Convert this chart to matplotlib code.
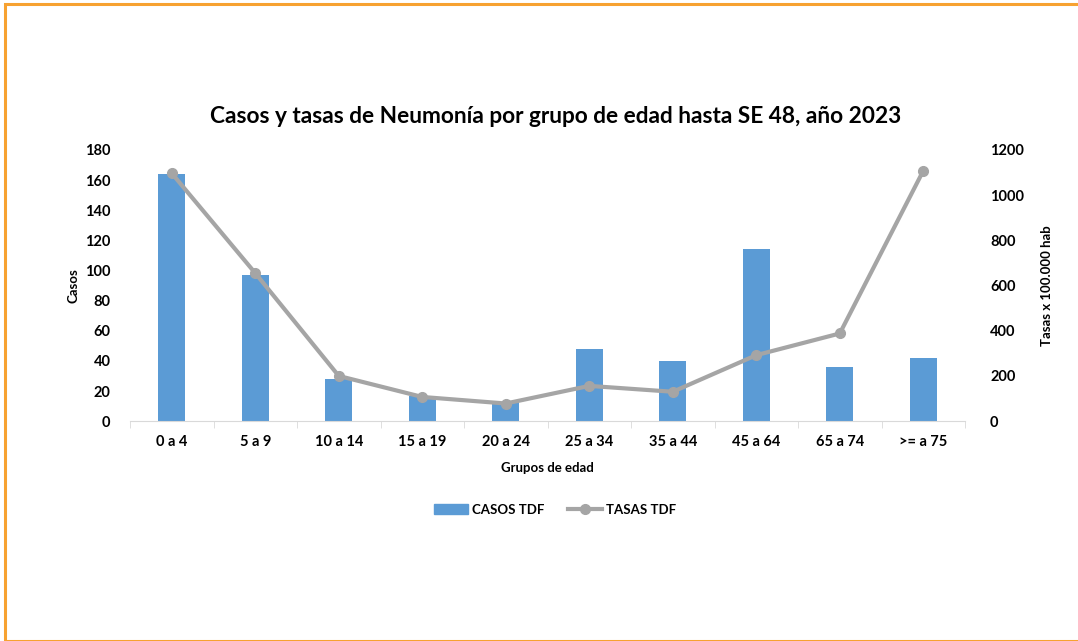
import matplotlib.pyplot as plt
import matplotlib.patches as mpatches
from matplotlib.lines import Line2D
import numpy as np

# datos
grupos = ["0 a 4", "5 a 9", "10 a 14", "15 a 19", "20 a 24",
          "25 a 34", "35 a 44", "45 a 64", "65 a 74", ">= a 75"]
casos = [164, 97, 28, 17, 13, 48, 40, 114, 36, 42]
tasas = [1097, 655, 200, 107, 78, 156, 130, 292, 388, 1108]

azul = "#5B9BD5"
gris = "#A5A5A5"

plt.rcParams['font.family'] = ['Lato', 'DejaVu Sans']

fig = plt.figure(figsize=(10.78, 6.41), dpi=100)
ax = fig.add_axes([0.1206, 0.343, 0.7746, 0.423])
x = np.arange(len(grupos))

# barras de casos
ax.bar(x, casos, width=0.32, color=azul, zorder=2)
ax.set_xlim(-0.5, len(grupos) - 0.5)
ax.set_ylim(0, 180)
ax.set_yticks(range(0, 181, 20))
ax.set_xticks(x)
ax.set_xticklabels(grupos, fontsize=10.5, fontweight="bold")
ax.tick_params(axis="x", length=0, pad=10)
ax.set_xticks(np.arange(-0.5, len(grupos), 1), minor=True)
ax.tick_params(axis="x", which="minor", length=5, color="#D9D9D9")
ax.tick_params(axis="y", length=0, labelsize=10.5, pad=14)
for lab in ax.get_yticklabels():
    lab.set_fontweight("bold")
for s in ["top", "left", "right"]:
    ax.spines[s].set_visible(False)
ax.spines["bottom"].set_color("#D9D9D9")
ax.set_ylabel("Casos", fontsize=9.5, fontweight="bold", labelpad=4)
ax.set_xlabel("Grupos de edad", fontsize=9.5, fontweight="bold", labelpad=9)

# linea de tasas
ax2 = ax.twinx()
ax2.plot(x, tasas, color=gris, lw=3, marker="o", markersize=7, zorder=3)
ax2.set_ylim(0, 1200)
ax2.set_yticks(range(0, 1201, 200))
ax2.tick_params(axis="y", length=0, labelsize=10.5, pad=18)
for lab in ax2.get_yticklabels():
    lab.set_fontweight("bold")
for s in ["top", "left", "right", "bottom"]:
    ax2.spines[s].set_visible(False)
ax2.set_ylabel("Tasas x 100.000 hab", fontsize=9.5, fontweight="bold", labelpad=12)

fig.text(0.515, 0.818, "Casos y tasas de Neumonía por grupo de edad hasta SE 48, año 2023",
         ha="center", va="center", fontsize=16.3, fontweight="bold")

# leyenda
h1 = mpatches.Patch(color=azul, label="CASOS TDF")
h2 = Line2D([], [], color=gris, lw=3, marker="o", markersize=7, label="TASAS TDF")
fig.legend(handles=[h1, h2], loc="center", bbox_to_anchor=(0.515, 0.205), ncol=2,
           frameon=False, prop={"size": 9.5, "weight": "bold"}, handlelength=2.6,
           columnspacing=1.8, handletextpad=0.3)

# borde naranja
fig.patches.append(mpatches.Rectangle((0.0045, 0.0), 1.2, 0.993, transform=fig.transFigure,
                                      fill=False, edgecolor="#F7A231", lw=2.2))

fig.savefig("out.png", dpi=100)
